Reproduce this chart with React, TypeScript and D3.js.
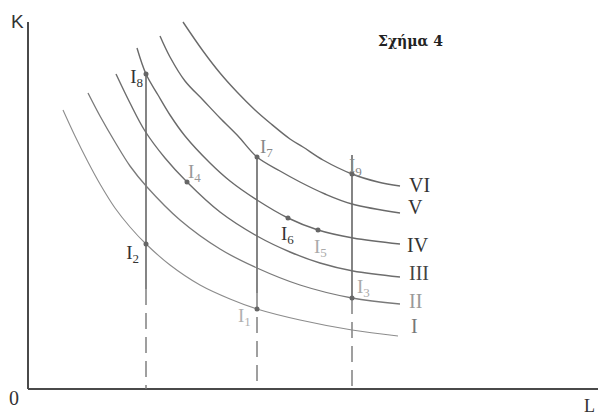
import React from 'react';
import * as d3 from 'd3';

// isoquants I..VI as [L, K]
const curveNames = ['I', 'II', 'III', 'IV', 'V', 'VI'];
const curveI = [[35, 279], [47, 253], [60, 227], [72, 205], [87, 181], [102, 162], [118, 145], [142, 124], [172, 104], [202, 90], [229, 80], [272, 69], [324, 59], [370, 53]];
const curveII = [[60, 296], [72, 273], [87, 247], [102, 223], [119, 202], [152, 169], [192, 140], [229, 121], [272, 104], [324, 91], [372, 85]];
const curveIII = [[88, 315], [102, 286], [117, 258], [137, 231], [159, 207], [192, 177], [229, 153], [262, 137], [292, 126], [325, 118], [372, 112]];
const curveIV = [[109, 341], [118, 315], [130, 294], [142, 274], [157, 253], [182, 226], [202, 208], [229, 189], [260, 171], [290, 159], [325, 151], [372, 145]];
const curveV = [[132, 353], [142, 332], [157, 308], [175, 289], [192, 271], [210, 253], [229, 232], [252, 218], [272, 207], [297, 195], [324, 185], [372, 176]];
const curveVI = [[155, 367], [175, 338], [192, 316], [209, 297], [227, 279], [242, 266], [262, 250], [275, 242], [295, 229], [324, 215], [350, 207], [372, 203]];
const curves = [curveI, curveII, curveIII, curveIV, curveV, curveVI];

// marked combinations I1..I9
const pointNames = ['1', '2', '3', '4', '5', '6', '7', '8', '9'];
const pointValues = [[229, 80], [118, 145], [324, 91], [159, 207], [290, 159], [260, 171], [229, 232], [118, 315], [324, 215]];

// vertical lines: L, top, end of the solid part (dashed below)
const dropL = [118, 229, 324];
const dropTop = [315, 232, 234];
const dropSolidEnd = [100, 96, 91];

const W = 598;
const H = 415;
const x = d3.scaleLinear().domain([0, 560]).range([28, 588]);
const y = d3.scaleLinear().domain([0, 364]).range([389, 25]);

const line = d3.line<number[]>()
  .x(d => x(d[0]))
  .y(d => y(d[1]))
  .curve(d3.curveCatmullRom.alpha(0.5));

const curveStroke = ['#8c8c8c', '#7a7a7a', '#6e6e6e', '#6a6a6a', '#6a6a6a', '#6a6a6a'];
const curveWidth = [1.1, 1.3, 1.4, 1.4, 1.4, 1.4];
const romanPos = [[411, 333], [409, 308], [409, 280], [407, 252], [408, 214], [409, 192]];
const romanFill = ['#777', '#999', '#444', '#333', '#333', '#333'];

const labelOff = [[-19, 13, 'start'], [-7, 15, 'end'], [5, -5, 'start'], [1, -4, 'start'], [-4, 23, 'start'], [-7, 22, 'start'], [3, -4, 'start'], [-3, 9, 'end'], [-3, -2, 'start']];
const labelFill = ['#b0b0b0', '#333', '#aaa', '#999', '#aaa', '#333', '#888', '#333', '#888'];

const serif = '"Liberation Serif", "DejaVu Serif", serif';

export default function App() {
  return (
    <svg width={W} height={H} style={{ position: 'absolute', left: 0, top: 0, background: '#fff' }}>
      {/* axes */}
      <line x1={x(0)} y1={y(0)} x2={x(0)} y2={22} stroke="#4a4a4a" strokeWidth={2} />
      <line x1={x(0)} y1={y(0)} x2={W} y2={y(0)} stroke="#4a4a4a" strokeWidth={2} />
      <text x={11} y={28} fontFamily='"Liberation Sans", Arial, sans-serif' fontSize={19} fill="#333">K</text>
      <text x={9} y={405} fontFamily={serif} fontSize={20} fill="#333">0</text>
      <text x={584} y={412} fontFamily={serif} fontSize={18} fill="#333">L</text>
      <text x={378} y={46} fontFamily='"DejaVu Serif", serif' fontWeight="bold" fontSize={14} fill="#222">Σχήμα  4</text>

      {/* vertical lines */}
      {dropL.map((l, i) => (
        <g key={'d' + i}>
          <line x1={x(l)} x2={x(l)} y1={y(dropTop[i])} y2={y(dropSolidEnd[i])} stroke="#666" strokeWidth={1.6} />
          <line x1={x(l)} x2={x(l)} y1={y(dropSolidEnd[i])} y2={y(0)} stroke="#777" strokeWidth={1.4} strokeDasharray="16 8" />
        </g>
      ))}

      {/* isoquants */}
      {curves.map((c, i) => (
        <path key={'c' + i} d={line(c) || ''} fill="none" stroke={curveStroke[i]} strokeWidth={curveWidth[i]} />
      ))}
      {curveNames.map((n, i) => (
        <text key={'r' + i} x={romanPos[i][0]} y={romanPos[i][1]} fontFamily={serif} fontSize={20} fill={romanFill[i]}>{n}</text>
      ))}

      {/* points */}
      {pointValues.map((p, i) => (
        <g key={'p' + i}>
          <circle cx={x(p[0])} cy={y(p[1])} r={2.5} fill="#666" />
          <text
            x={x(p[0]) + (labelOff[i][0] as number)}
            y={y(p[1]) + (labelOff[i][1] as number)}
            textAnchor={labelOff[i][2] as string}
            fontFamily={serif}
            fontSize={19}
            fill={labelFill[i]}
          >
            I<tspan fontSize={13} dy={4}>{pointNames[i]}</tspan>
          </text>
        </g>
      ))}
    </svg>
  );
}
